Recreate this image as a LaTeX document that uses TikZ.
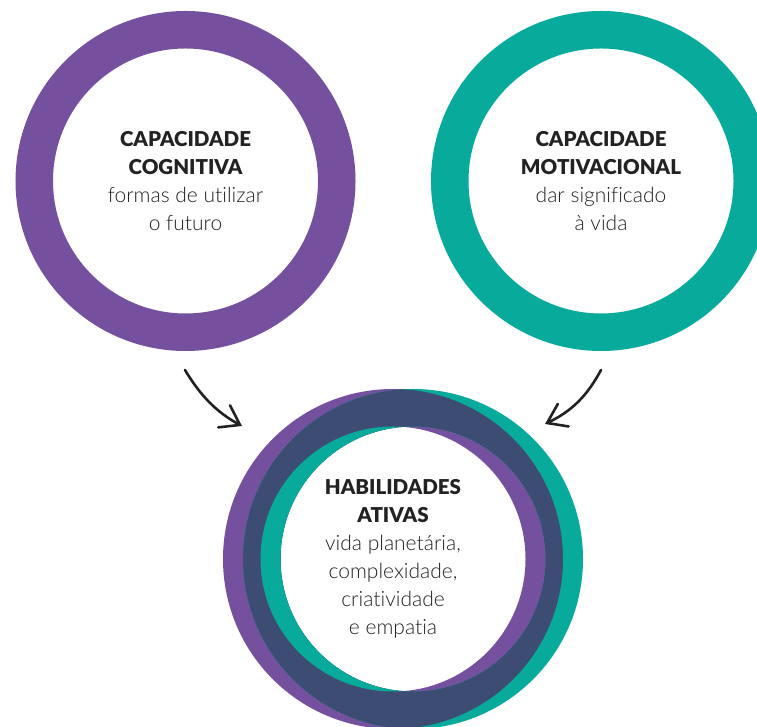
\documentclass[tikz,border=0pt]{standalone}
\usepackage{fontspec}
\setmainfont{Lato}
\newfontfamily\lightfont{Lato Light}[Ligatures=NoCommon]
\newfontfamily\heavyfont{Lato Black}[Ligatures=NoCommon]
\newcommand{\ttlline}[1]{{\heavyfont\fontsize{20.5}{28}\selectfont #1}}
\newcommand{\bdyline}[1]{{\lightfont\fontsize{21}{28}\selectfont #1}}
\usetikzlibrary{arrows.meta}
\definecolor{cpurple}{HTML}{74509E}
\definecolor{cteal}{HTML}{08AA9C}
\definecolor{cnavy}{HTML}{3C4C72}
\definecolor{ctext}{HTML}{222222}
\begin{document}
\begin{tikzpicture}[x=1pt,y=1pt,
  ring/.style={circle, line width=37.5pt, minimum size=302.5pt, inner sep=0pt,
    align=center, text=ctext, font=\fontsize{21}{28}\selectfont},
  arrowline/.style={draw=ctext, line width=2.6pt, line cap=round,
    -{Straight Barb[length=18pt,width=25pt,line cap=round]}}
]
\useasboundingbox (0,0) rectangle (757,727);
\fill[white] (0,0) rectangle (757,727);

\node[ring, draw=cpurple] (cog) at (185.5,546)
  {\ttlline{CAPACIDADE}\\\ttlline{COGNITIVA}\\\bdyline{formas de utilizar}\\\bdyline{o futuro}};
\node[ring, draw=cteal] (mot) at (601,546)
  {\ttlline{CAPACIDADE}\\\ttlline{MOTIVACIONAL}\\\bdyline{dar significado}\\\bdyline{à vida}};

\node[ring, draw=cpurple] (hab) at (393,168)
  {\ttlline{HABILIDADES}\\\ttlline{ATIVAS}\\\bdyline{vida planetária,}\\\bdyline{complexidade,}\\\bdyline{criatividade}\\\bdyline{e empatia}};
\node[ring, draw=cteal] (habt) at (413,168) {};
\begin{scope}
  \clip (hab.center) circle (170);
  \fill[cnavy, even odd rule] (habt.center) circle (170) (habt.center) circle (132.5);
\end{scope}
\begin{scope}
  \clip (hab.center) circle (132.5);
  \fill[cteal, even odd rule] (habt.center) circle (170) (habt.center) circle (132.5);
\end{scope}

\coordinate (a1s) at (185,357);
\coordinate (a1e) at (242,301);
\coordinate (a2s) at (601,357);
\coordinate (a2e) at (545,303);
\draw[arrowline] (a1s) .. controls (200,332) and (216,315) .. (a1e);
\draw[arrowline] (a2s) .. controls (587,331) and (572,316) .. (a2e);
\end{tikzpicture}
\end{document}
